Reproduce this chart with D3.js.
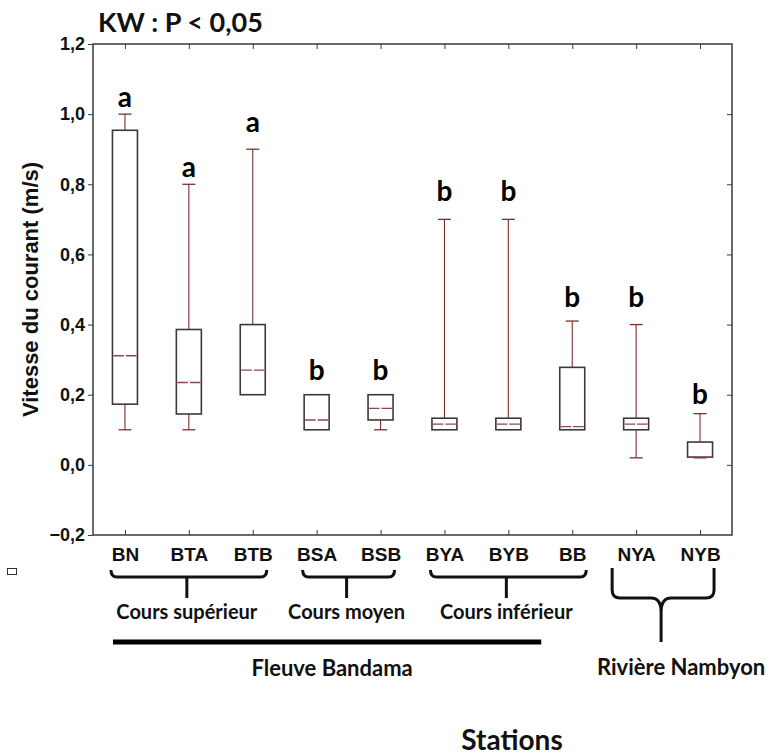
<!DOCTYPE html>
<html>
<head>
<meta charset="utf-8">
<script src="https://cdn.jsdelivr.net/npm/d3@7"></script>
<style>
  body { margin: 0; background: #fff; }
  svg { display: block; }
</style>
</head>
<body>
<div id="chart"></div>
<script>
// Stations and box-plot values (m/s)
var stations = ["BN", "BTA", "BTB", "BSA", "BSB", "BYA", "BYB", "BB", "NYA", "NYB"];
var whiskerLow  = [0.10, 0.10, 0.20, 0.10, 0.10, 0.10, 0.10, 0.10, 0.02, 0.02];
var boxLow      = [0.173, 0.145, 0.20, 0.10, 0.128, 0.10, 0.10, 0.10, 0.10, 0.022];
var medians     = [0.311, 0.235, 0.27, 0.128, 0.161, 0.116, 0.116, 0.109, 0.116, 0.022];
var boxHigh     = [0.954, 0.386, 0.40, 0.20, 0.20, 0.133, 0.133, 0.278, 0.133, 0.065];
var whiskerHigh = [1.00, 0.80, 0.90, 0.20, 0.20, 0.70, 0.70, 0.41, 0.40, 0.146];
var letters     = ["a", "a", "a", "b", "b", "b", "b", "b", "b", "b"];
var letterAt    = [1.02, 0.82, 0.949, 0.243, 0.243, 0.752, 0.752, 0.449, 0.449, 0.174];
var yTicks = [-0.2, 0, 0.2, 0.4, 0.6, 0.8, 1.0, 1.2];

// station groups under the axis
var reaches = [
    {label: "Cours supérieur", from: "BN", to: "BTB"},
    {label: "Cours moyen", from: "BSA", to: "BSB"},
    {label: "Cours inférieur", from: "BYA", to: "BB"}
];
var rivers = [
    {label: "Fleuve Bandama", from: "BN", to: "BB"},
    {label: "Rivière Nambyon", from: "NYA", to: "NYB"}
];

var data = stations.map(function (s, i) {
    return {
        station: s, wlo: whiskerLow[i], q1: boxLow[i], med: medians[i],
        q3: boxHigh[i], whi: whiskerHigh[i], letter: letters[i], ly: letterAt[i]
    };
});

var W = 774, H = 756;
var margin = {top: 44, right: 42, bottom: 221, left: 93},
    width = W - margin.left - margin.right,
    height = H - margin.top - margin.bottom;

var svg = d3.select("#chart").append("svg")
    .attr("width", W)
    .attr("height", H);

var g = svg.append("g")
    .attr("transform", `translate(${margin.left},${margin.top})`);

var x = d3.scalePoint()
    .domain(stations)
    .range([0, width])
    .padding(0.5);

var y = d3.scaleLinear()
    .domain([-0.2, 1.2])
    .range([height, 0]);

var frameColor = "#3a3a3a",
    whiskColor = "#7d2f2f",
    calibri = "Lato, 'Open Sans', sans-serif",
    arial = "'Liberation Sans', Arial, sans-serif";

// Left axis (outward ticks)
var yAxisL = g.append("g")
    .call(d3.axisLeft(y).tickValues(yTicks).tickSize(5).tickSizeOuter(0).tickPadding(3)
        .tickFormat(d => d3.format(".1f")(d).replace(".", ",")));
yAxisL.select(".domain").remove();
yAxisL.selectAll("line").attr("stroke", frameColor);
yAxisL.selectAll("text")
    .attr("font-family", arial)
    .attr("font-weight", "bold")
    .attr("font-size", 18)
    .attr("fill", "#111");

// Right axis (inward ticks)
var yAxisR = g.append("g")
    .attr("transform", `translate(${width},0)`)
    .call(d3.axisLeft(y).tickValues(yTicks.slice(1, -1)).tickSize(5).tickSizeOuter(0).tickFormat(""));
yAxisR.select(".domain").remove();
yAxisR.selectAll("line").attr("stroke", frameColor);

// Top axis (inward ticks)
var xAxisT = g.append("g")
    .call(d3.axisTop(x).tickSize(-5).tickSizeOuter(0).tickFormat(""));
xAxisT.select(".domain").remove();
xAxisT.selectAll("line").attr("stroke", frameColor);

// Bottom axis (inward ticks, station labels)
var xAxisB = g.append("g")
    .attr("transform", `translate(0,${height})`)
    .call(d3.axisBottom(x).tickSize(-5).tickSizeOuter(0).tickPadding(13));
xAxisB.select(".domain").remove();
xAxisB.selectAll("line").attr("stroke", frameColor);
xAxisB.selectAll("text")
    .attr("font-family", arial)
    .attr("font-weight", "bold")
    .attr("font-size", 19)
    .attr("fill", "#111");

// Frame
g.append("rect")
    .attr("width", width)
    .attr("height", height)
    .attr("fill", "none")
    .attr("stroke", frameColor)
    .attr("stroke-width", 1.5);

// Box plots
var boxW = 25, capW = 13;
var box = g.selectAll(".box")
    .data(data)
    .join("g")
    .attr("class", "box")
    .attr("transform", d => `translate(${x(d.station)},0)`);

box.filter(d => d.whi > d.q3).append("line")
    .attr("y1", d => y(d.whi)).attr("y2", d => y(d.q3))
    .attr("stroke", whiskColor).attr("stroke-width", 1.1);
box.filter(d => d.whi > d.q3).append("line")
    .attr("x1", -capW / 2).attr("x2", capW / 2)
    .attr("y1", d => y(d.whi)).attr("y2", d => y(d.whi))
    .attr("stroke", whiskColor).attr("stroke-width", 1.3);
box.filter(d => d.wlo < d.q1).append("line")
    .attr("y1", d => y(d.q1)).attr("y2", d => y(d.wlo))
    .attr("stroke", whiskColor).attr("stroke-width", 1.1);
box.filter(d => d.wlo < d.q1).append("line")
    .attr("x1", -capW / 2).attr("x2", capW / 2)
    .attr("y1", d => y(d.wlo)).attr("y2", d => y(d.wlo))
    .attr("stroke", whiskColor).attr("stroke-width", 1.3);

box.append("rect")
    .attr("x", -boxW / 2)
    .attr("width", boxW)
    .attr("y", d => y(d.q3))
    .attr("height", d => y(d.q1) - y(d.q3))
    .attr("fill", "#fff")
    .attr("stroke", frameColor)
    .attr("stroke-width", 1.6);

box.append("line")
    .attr("x1", -boxW / 2 + 1).attr("x2", boxW / 2 - 1)
    .attr("y1", d => y(d.med)).attr("y2", d => y(d.med))
    .attr("stroke", "#8a4a4a")
    .attr("stroke-width", 1.4)
    .attr("stroke-dasharray", "10.5,2");

box.append("text")
    .attr("y", d => y(d.ly))
    .attr("text-anchor", "middle")
    .attr("font-family", calibri)
    .attr("font-weight", "bold")
    .attr("font-size", 28)
    .attr("fill", "#000")
    .text(d => d.letter);

// Title
svg.append("text")
    .attr("x", 98)
    .attr("y", 32)
    .attr("font-family", calibri)
    .attr("font-weight", "bold")
    .attr("font-size", 27)
    .attr("fill", "#111")
    .text("KW : P < 0,05");

// Y axis title
svg.append("text")
    .attr("transform", `translate(38,${margin.top + y(0.5)}) rotate(-90)`)
    .attr("text-anchor", "middle")
    .attr("font-family", arial)
    .attr("font-weight", "bold")
    .attr("font-size", 22)
    .attr("fill", "#111")
    .text("Vitesse du courant (m/s)");

// Brackets for river reaches
var ann = svg.append("g")
    .attr("transform", `translate(${margin.left},0)`);
var braceTop = 570, braceY = 577, stemY = 598;

reaches.forEach(function (r) {
    var x1 = x(r.from) - 14, x2 = x(r.to) + 14, cx = (x1 + x2) / 2 - 2;
    ann.append("path")
        .attr("d", `M${x1},${braceTop} Q${x1},${braceY} ${x1 + 6},${braceY} H${x2 - 6} Q${x2},${braceY} ${x2},${braceTop}`)
        .attr("fill", "none").attr("stroke", "#111").attr("stroke-width", 3);
    ann.append("line")
        .attr("x1", cx).attr("x2", cx)
        .attr("y1", braceY).attr("y2", stemY)
        .attr("stroke", "#111").attr("stroke-width", 3);
    ann.append("text")
        .attr("x", cx)
        .attr("y", 619)
        .attr("text-anchor", "middle")
        .attr("font-family", calibri)
        .attr("font-weight", "bold")
        .attr("font-size", 20)
        .attr("fill", "#111")
        .text(r.label);
});

// Fleuve Bandama bar
var fb = rivers[0];
var fbx1 = x(fb.from) - 12, fbx2 = x(fb.to) - 31;
ann.append("line")
    .attr("x1", fbx1).attr("x2", fbx2)
    .attr("y1", 642).attr("y2", 642)
    .attr("stroke", "#000").attr("stroke-width", 5);
ann.append("text")
    .attr("x", (fbx1 + fbx2) / 2 + 5)
    .attr("y", 676)
    .attr("text-anchor", "middle")
    .attr("font-family", calibri)
    .attr("font-weight", "bold")
    .attr("font-size", 22)
    .attr("fill", "#111")
    .text(fb.label);

// Rivière Nambyon brace
var rn = rivers[1];
var nx1 = x(rn.from) - 24, nx2 = x(rn.to) + 14, ncx = (nx1 + nx2) / 2 - 2;
ann.append("path")
    .attr("d", `M${nx1},568 V590 Q${nx1},598 ${nx1 + 8},598 H${ncx - 10} Q${ncx},598 ${ncx},612 V642 ` +
        `M${ncx},612 Q${ncx},598 ${ncx + 10},598 H${nx2 - 8} Q${nx2},598 ${nx2},590 V568`)
    .attr("fill", "none").attr("stroke", "#111").attr("stroke-width", 3);
ann.append("text")
    .attr("x", ncx + 20)
    .attr("y", 675)
    .attr("text-anchor", "middle")
    .attr("font-family", calibri)
    .attr("font-weight", "bold")
    .attr("font-size", 22)
    .attr("fill", "#111")
    .text(rn.label);

// X axis title
svg.append("text")
    .attr("x", 512)
    .attr("y", 750)
    .attr("text-anchor", "middle")
    .attr("font-family", calibri)
    .attr("font-weight", "bold")
    .attr("font-size", 28)
    .attr("fill", "#111")
    .text("Stations");

// small stray marker at left
svg.append("rect")
    .attr("x", 7.5).attr("y", 568.5)
    .attr("width", 9).attr("height", 6)
    .attr("fill", "none")
    .attr("stroke", "#333")
    .attr("stroke-width", 1);
</script>
</body>
</html>
